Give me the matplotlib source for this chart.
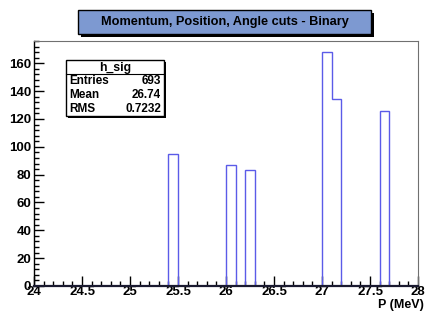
import numpy as np
import matplotlib
matplotlib.use("Agg")
import matplotlib.pyplot as plt
from matplotlib.patches import Rectangle
from matplotlib.ticker import MultipleLocator

# histogram h_sig: 0.1 MeV bins from 24 to 28, only non-empty bins listed
bin_low = [25.4, 26.0, 26.2, 27.0, 27.1, 27.6]
counts = [95, 87, 83, 168, 134, 126]
x_range = (24.0, 28.0)
bin_width = 0.1

title = "Momentum, Position, Angle cuts - Binary"
xlabel = "P (MeV)"
stats_name = "h_sig"
stats_rows = [("Entries", "693"), ("Mean", "26.74"), ("RMS", "0.7232")]

W, H = 425, 312
plt.rcParams['font.family'] = ['Liberation Sans', 'DejaVu Sans']
plt.rcParams['font.weight'] = 'bold'

fig = plt.figure(figsize=(W / 100, H / 100), dpi=100)
fig.patch.set_facecolor('white')

# axes in pixel units (left, top, right, bottom)
L, T, R, B = 34, 41, 418, 286
ax = fig.add_axes([L / W, 1 - B / H, (R - L) / W, (B - T) / H])

edges = np.round(np.arange(x_range[0], x_range[1] + bin_width / 2, bin_width), 3)
centers = [b + bin_width / 2 for b in bin_low]
ax.hist(centers, bins=edges, weights=counts, histtype='step',
        color='#5b5be8', linewidth=1.0)

ax.set_xlim(*x_range)
ax.set_ylim(0, 176)
ax.xaxis.set_major_locator(MultipleLocator(0.5))
ax.xaxis.set_minor_locator(MultipleLocator(0.1))
ax.yaxis.set_major_locator(MultipleLocator(20))
ax.yaxis.set_minor_locator(MultipleLocator(4))
ax.xaxis.set_major_formatter(matplotlib.ticker.FuncFormatter(lambda v, p: f"{v:g}"))
ax.tick_params(which='both', direction='in', top=False, right=False,
               labelsize=9.5, colors='black', width=1.0)
ax.tick_params(which='major', length=7)
ax.tick_params(which='minor', length=3.5)
ax.tick_params(axis='x', pad=0)
ax.tick_params(axis='y', pad=2)
for lab in ax.get_xticklabels() + ax.get_yticklabels():
    lab.set_fontweight('bold')

for s in ('top', 'right'):
    ax.spines[s].set_color('#707070')
    ax.spines[s].set_linewidth(0.8)
ax.spines['left'].set_linewidth(1.0)
ax.spines['bottom'].set_linewidth(1.6)
ax.spines['bottom'].set_color('#1a1a30')


def px(x, y):
    return x / W, 1 - y / H


def box(x0, y0, x1, y1, fc, shadow):
    fig.add_artist(Rectangle(px(x0 + shadow, y1 + shadow), (x1 - x0) / W, (y1 - y0) / H,
                             transform=fig.transFigure, facecolor='black',
                             edgecolor='black', linewidth=0, zorder=5))
    fig.add_artist(Rectangle(px(x0, y1), (x1 - x0) / W, (y1 - y0) / H,
                             transform=fig.transFigure, facecolor=fc,
                             edgecolor='black', linewidth=1.0, zorder=6))


# title box
box(78, 10, 371, 34, '#7d99d1', 3)
fig.text(*px(224.5, 22.5), title, ha='center', va='center', fontsize=9.2,
         fontweight='bold', zorder=7)

# stats box
box(66, 60, 164, 116, 'white', 2)
fig.add_artist(plt.Line2D([66 / W, 164 / W], [1 - 74 / H, 1 - 74 / H],
                          transform=fig.transFigure, color='black',
                          linewidth=0.8, zorder=7))
fig.text(*px(115, 67.5), stats_name, ha='center', va='center', fontsize=8.8,
         fontweight='bold', zorder=7)
for i, (k, v) in enumerate(stats_rows):
    y = 81.5 + i * 13.5
    fig.text(*px(69, y), k, ha='left', va='center', fontsize=8.5,
             fontweight='bold', zorder=7)
    fig.text(*px(161, y), v, ha='right', va='center', fontsize=8.5,
             fontweight='bold', zorder=7)

# x axis title
fig.text(*px(424, 305), xlabel, ha='right', va='center', fontsize=9,
         fontweight='bold')

fig.savefig('out.png', dpi=100)
